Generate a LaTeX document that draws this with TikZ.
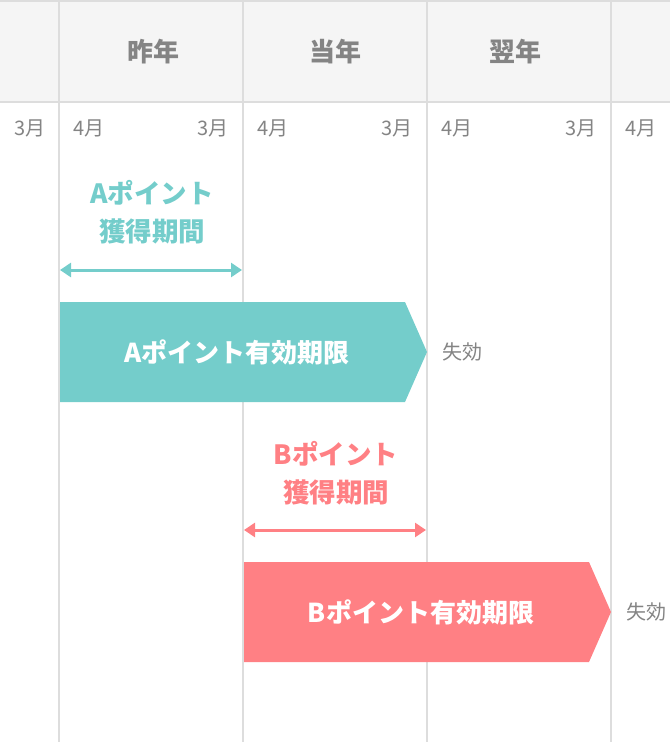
\documentclass[tikz,border=0pt]{standalone}
\usepackage{fontspec}
\setmainfont{Noto Sans CJK JP}
\usetikzlibrary{arrows.meta}
\definecolor{gridc}{HTML}{DDDDDD}
\definecolor{headbg}{HTML}{F5F5F5}
\definecolor{txtg}{HTML}{848484}
\definecolor{teal}{HTML}{74CDCB}
\definecolor{pink}{HTML}{FF8084}
\tikzset{
  gridline/.style={draw=gridc,line width=2pt},
  yearlbl/.style={text=txtg,font=\fontsize{26}{30}\selectfont\bfseries,inner sep=0},
  monthlbl/.style={text=txtg,font=\fontsize{20}{24}\selectfont,inner sep=0},
  ptlbl/.style={font=\fontsize{26.5}{38}\selectfont\bfseries,align=center,inner sep=0},
  span/.style={line width=3pt,{Triangle[width=14pt,length=11pt]}-{Triangle[width=14pt,length=11pt]}},
  bartxt/.style={text=white,font=\fontsize{26}{30}\selectfont\bfseries,inner sep=0},
}
\begin{document}
\begin{tikzpicture}[x=1pt,y=-1pt]
\useasboundingbox (0,0) rectangle (670,742);
\fill[headbg] (0,0) rectangle (670,102);
\draw[gridline] (0,1) -- (670,1);
\draw[gridline] (0,102) -- (670,102);
\foreach \x in {59,243,427,611} \draw[gridline] (\x,0) -- (\x,742);
% year labels
\node[yearlbl] (y1) at (153,52) {昨年};
\node[yearlbl] (y2) at (335,52) {当年};
\node[yearlbl] (y3) at (515,52) {翌年};
% months
\node[monthlbl] (m0) at (30,128) {3月};
\node[monthlbl] (m1) at (89,128) {4月};
\node[monthlbl] (m2) at (213,128) {3月};
\node[monthlbl] (m3) at (273,128) {4月};
\node[monthlbl] (m4) at (397,128) {3月};
\node[monthlbl] (m5) at (457,128) {4月};
\node[monthlbl] (m6) at (581,128) {3月};
\node[monthlbl] (m7) at (641,128) {4月};
% A
\node[ptlbl,text=teal] (alab) at (152,212) {Aポイント\\獲得期間};
\coordinate (a1) at (60,270);
\coordinate (a2) at (242,270);
\draw[span,teal] (a1) -- (a2);
\fill[teal] (60,302) -- (405,302) -- (427,352) -- (405,402) -- (60,402) -- cycle;
\node[bartxt] (abar) at (237,352) {Aポイント有効期限};
\node[monthlbl] (aexp) at (462,352) {失効};
% B
\node[ptlbl,text=pink] (blab) at (336,473) {Bポイント\\獲得期間};
\coordinate (b1) at (244,530);
\coordinate (b2) at (426,530);
\draw[span,pink] (b1) -- (b2);
\fill[pink] (244,562) -- (589,562) -- (611,612) -- (589,662) -- (244,662) -- cycle;
\node[bartxt] (bbar) at (421,612) {Bポイント有効期限};
\node[monthlbl] (bexp) at (646,612) {失効};
\end{tikzpicture}
\end{document}
